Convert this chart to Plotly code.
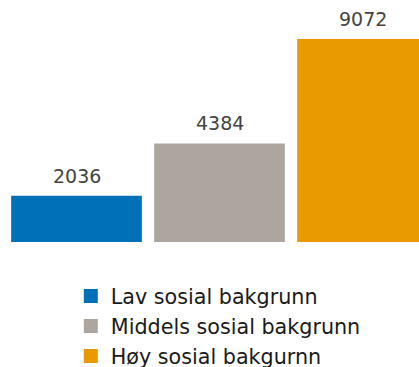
import plotly.graph_objects as go

categories = ["Lav sosial bakgrunn", "Middels sosial bakgrunn", "Høy sosial bakgurnn"]
values = [2036, 4384, 9072]
colors = ["#0070B8", "#ADA69F", "#E89A00"]

fig = go.Figure()
for name, val, col in zip(categories, values, colors):
    fig.add_trace(go.Bar(
        x=[name], y=[val], name=name,
        marker=dict(color=col, line=dict(width=2, color=col)),
    ))
    # value label above each bar
    fig.add_annotation(
        x=name, y=val, text=str(val), showarrow=False,
        yanchor="bottom", yshift=8,
        font=dict(size=19, color="#444444", family="DejaVu Sans"),
    )

fig.update_layout(
    width=419, height=367,
    margin=dict(l=0, r=0, t=0, b=125, autoexpand=False),
    paper_bgcolor="white", plot_bgcolor="white",
    barmode="overlay", bargap=0.1,
    showlegend=True,
    legend=dict(
        orientation="v", x=0.169, xanchor="left", y=-0.141, yanchor="top",
        font=dict(size=20.7, color="#1a1a1a", family="DejaVu Sans"),
        itemwidth=30, tracegroupgap=0,
    ),
    xaxis=dict(visible=False, range=[-0.535, 2.395],
               categoryorder="array", categoryarray=categories),
    yaxis=dict(visible=False, range=[0, 10870]),
)

fig.write_html("out.html")
